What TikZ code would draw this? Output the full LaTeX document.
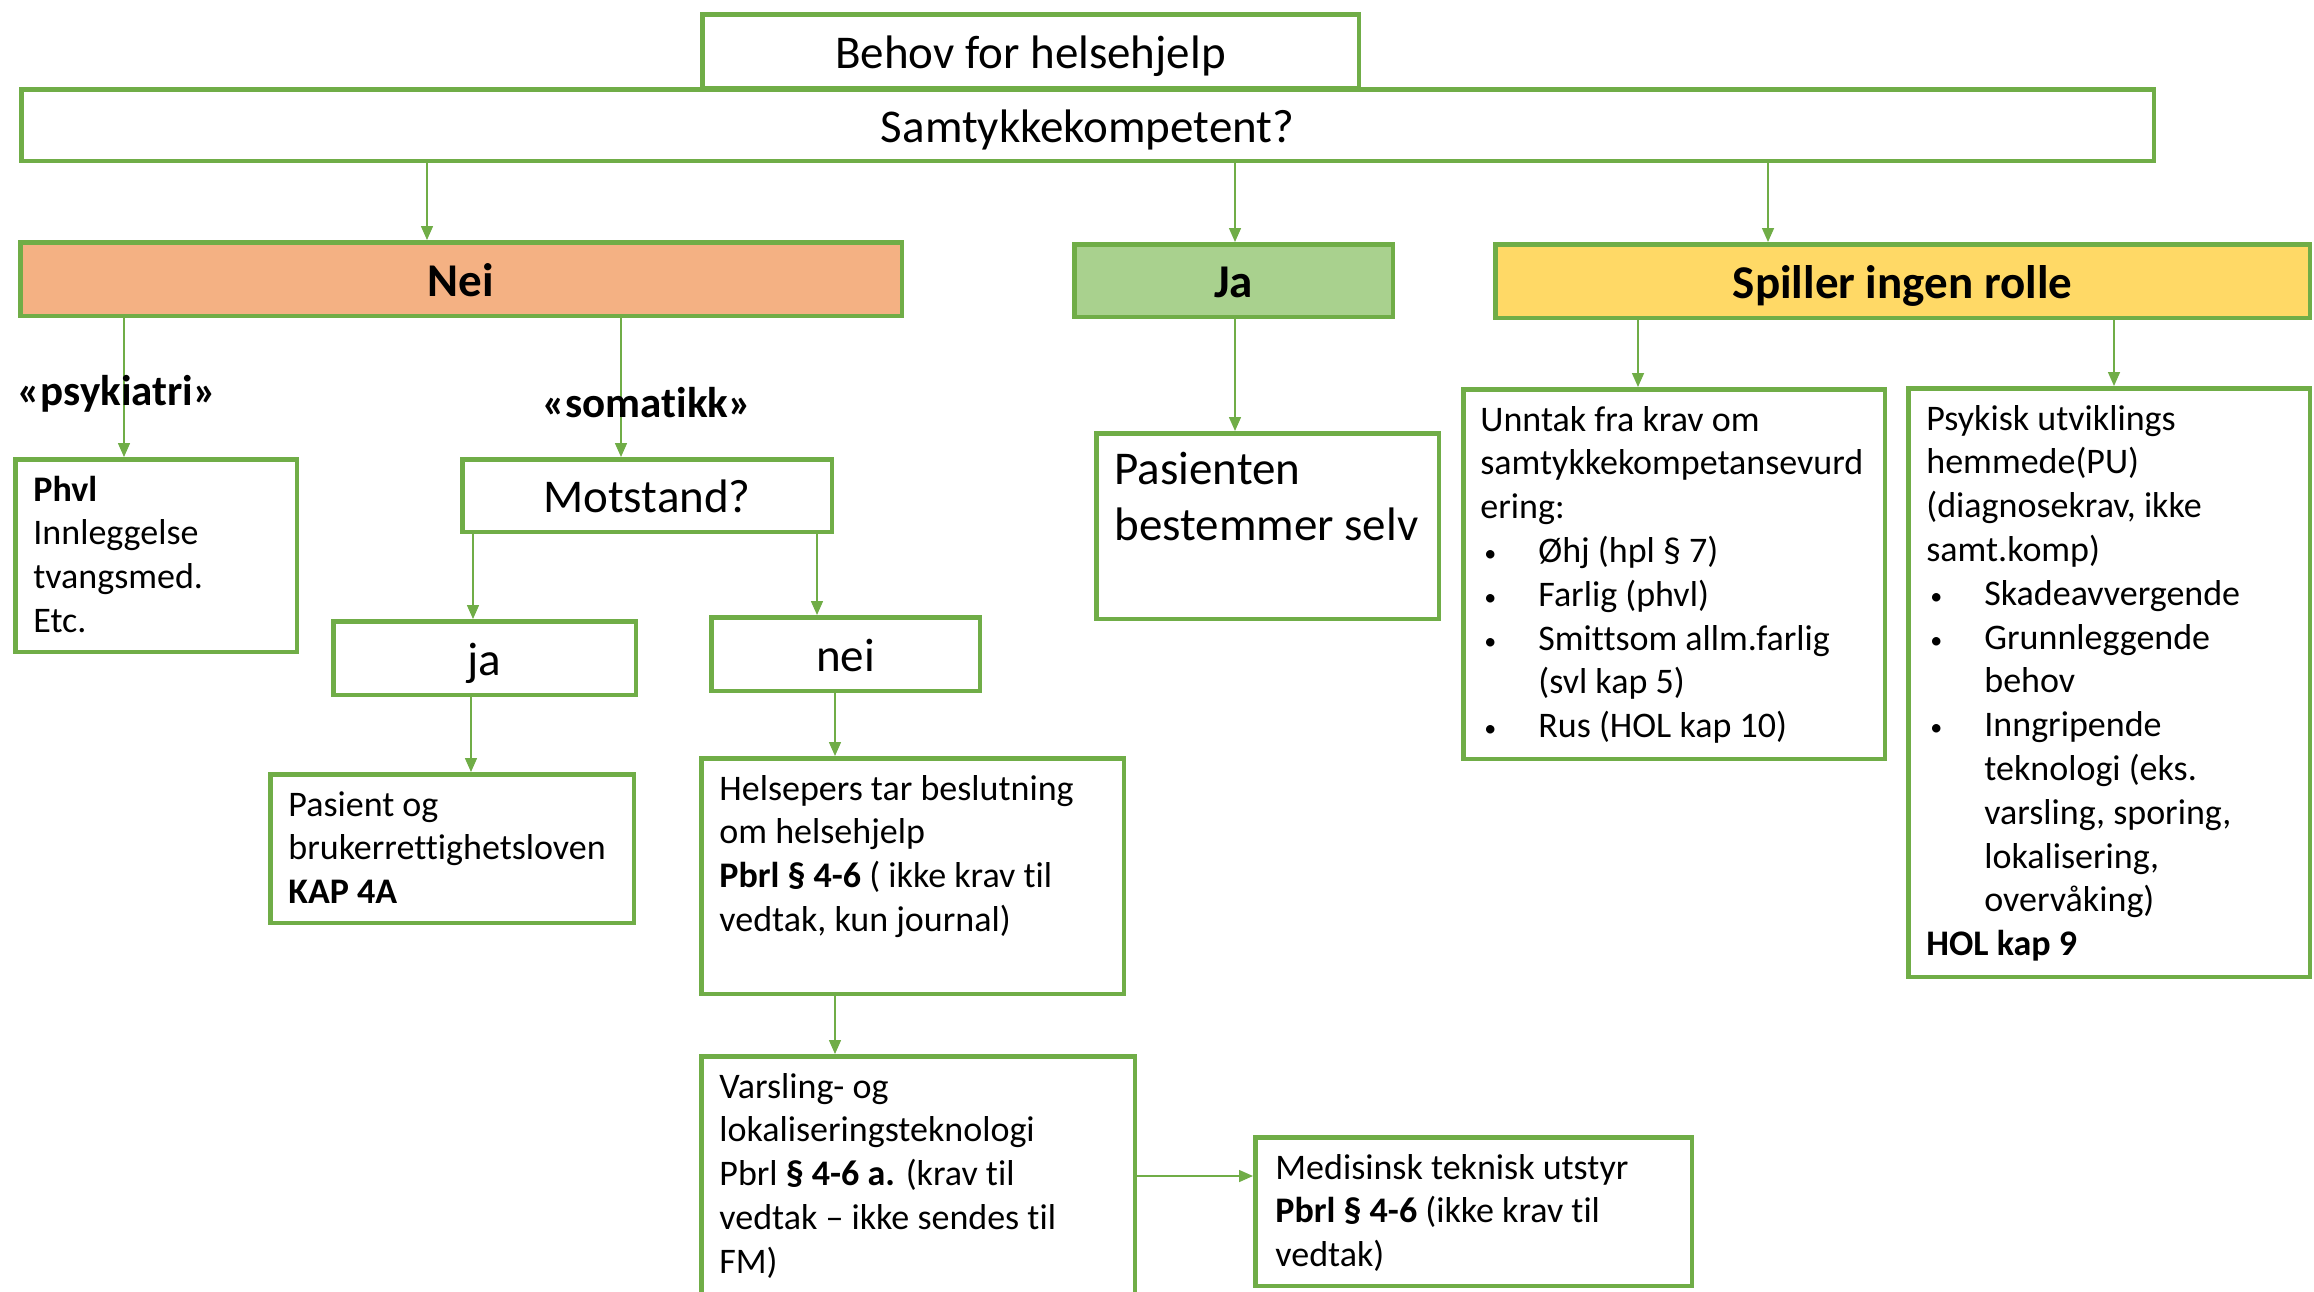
\documentclass[tikz,border=0pt]{standalone}
\usepackage{fontspec}
\setmainfont{Carlito}[Ligatures=NoCommon]
\usetikzlibrary{arrows.meta}
\definecolor{grn}{HTML}{70AD47}
\definecolor{orfill}{HTML}{F4B183}
\definecolor{jafill}{HTML}{A9D18E}
\definecolor{yfill}{HTML}{FFD966}
\tikzset{
 box/.style={draw=grn, line width=2.25pt, fill=white, rectangle, inner sep=0pt, outer sep=1.125pt},
 conn/.style={draw=grn, line width=0.75pt, -{Triangle[length=7pt,width=6pt]}},
 head/.style={font=\fontsize{23.5}{28}\selectfont, text height=18pt, text depth=1pt},
 bhead/.style={font=\fontsize{23.5}{28}\selectfont\bfseries, text height=18pt, text depth=1pt},
 body/.style={font=\fontsize{18}{21.9}\selectfont, inner sep=0pt, align=left, anchor=north west},
 lbl/.style={font=\fontsize{21.5}{26}\selectfont\bfseries, inner sep=0pt},
}
\newcommand{\mybox}[6][]{%
  \pgfmathsetmacro{\bw}{(#5-#3-4.5)*0.5}%
  \pgfmathsetmacro{\bh}{(#6-#4-4.5)*0.5}%
  \node[box,#1,anchor=north west,minimum width=\bw pt,minimum height=\bh pt] (#2) at (#3,#4)
}
\newcommand{\itm}{\hspace*{2pt}\makebox[27pt][l]{\raisebox{0.5pt}{\fontsize{12}{12}\selectfont •}}}
\newcommand{\cnt}{\hspace*{29pt}}
\begin{document}
\begin{tikzpicture}[x=0.5pt,y=-0.5pt]
\clip (0,0) rectangle (2314,1291);
\fill[white] (0,0) rectangle (2314,1291);

% boxes
\mybox[head]{behov}{700}{12}{1361}{90}{Behov for helsehjelp};
\mybox[head]{samt}{19}{87}{2156}{163}{Samtykkekompetent?};
\mybox[bhead,fill=orfill]{nei}{18}{240}{904}{318}{Nei};
\mybox[bhead,fill=jafill]{ja}{1072}{242}{1395}{319}{Ja};
\mybox[bhead,fill=yfill]{spiller}{1493}{242}{2312}{320}{Spiller ingen rolle};
\mybox{phvl}{13}{457}{299}{654}{};
\mybox[head]{motstand}{460}{457}{834}{534}{Motstand?};
\mybox[head]{jasmall}{331}{619}{638}{697}{ja};
\mybox[head]{neismall}{709}{615}{982}{693}{nei};
\mybox{pasient}{268}{772}{636}{925}{};
\mybox{helsepers}{699}{756}{1126}{996}{};
\mybox{varsling}{699}{1054}{1137}{1320}{};
\mybox{medisinsk}{1253}{1135}{1694}{1288}{};
\mybox{pasienten}{1094}{431}{1441}{621}{};
\mybox{unntak}{1461}{387}{1887}{761}{};
\mybox{psykisk}{1906}{386}{2312}{979}{};

% connector x positions
\coordinate (c1) at (427,0);
\coordinate (c2) at (1235,0);
\coordinate (c3) at (1768,0);
\coordinate (c4) at (124,0);
\coordinate (c5) at (621,0);
\coordinate (c6) at (473,0);
\coordinate (c7) at (817,0);
\coordinate (c8) at (471,0);
\coordinate (c9) at (835,0);
\coordinate (c10) at (1638,0);
\coordinate (c11) at (2114,0);
\coordinate (c12) at (0,1176);

\draw[conn] (samt.south -| c1) -- (nei.north -| c1);
\draw[conn] (samt.south -| c2) -- (ja.north -| c2);
\draw[conn] (samt.south -| c3) -- (spiller.north -| c3);
\draw[conn] (nei.south -| c4) -- (phvl.north -| c4);
\draw[conn] (nei.south -| c5) -- (motstand.north -| c5);
\draw[conn] (motstand.south -| c6) -- (jasmall.north -| c6);
\draw[conn] (motstand.south -| c7) -- (neismall.north -| c7);
\draw[conn] (jasmall.south -| c8) -- (pasient.north -| c8);
\draw[conn] (neismall.south -| c9) -- (helsepers.north -| c9);
\draw[conn] (helsepers.south -| c9) -- (varsling.north -| c9);
\draw[conn] (varsling.east |- c12) -- (medisinsk.west |- c12);
\draw[conn] (ja.south -| c2) -- (pasienten.north -| c2);
\draw[conn] (spiller.south -| c10) -- (unntak.north -| c10);
\draw[conn] (spiller.south -| c11) -- (psykisk.north -| c11);

% labels
\node[lbl] (psyk) at (117,394) {«psykiatri»};
\node[lbl] (soma) at (647,403) {«somatikk»};

% texts
\node[body] (phvlT) at ([shift={(20,13)}]phvl.north west)
  {\strut\textbf{Phvl}\\Innleggelse\\tvangsmed.\\Etc.};
\node[body] (pasientT) at ([shift={(20,13)}]pasient.north west)
  {\strut Pasient og\\brukerrettighetsloven\\\textbf{KAP 4A}};
\node[body] (helsepersT) at ([shift={(20,13)}]helsepers.north west)
  {\strut Helsepers tar beslutning\\om helsehjelp\\\textbf{Pbrl § 4-6} ( ikke krav til\\vedtak, kun journal)};
\node[body] (varslingT) at ([shift={(20,13)}]varsling.north west)
  {\strut Varsling- og\\lokaliseringsteknologi\\Pbrl \textbf{§ 4-6 a.} (krav til\\vedtak – ikke sendes til\\FM)};
\node[body] (medisinskT) at ([shift={(22,13)}]medisinsk.north west)
  {\strut Medisinsk teknisk utstyr\\\textbf{Pbrl § 4-6} (ikke krav til\\vedtak)};
\node[body, font=\fontsize{23.5}{28}\selectfont] (pasientenT) at ([shift={(20,14)}]pasienten.north west)
  {\strut Pasienten\\bestemmer selv};
\node[body] (unntakT) at ([shift={(19,13)}]unntak.north west)
  {\strut Unntak fra krav om\\samtykkekompetansevurd\\ering:\\
   \itm Øhj (hpl § 7)\\\itm Farlig (phvl)\\\itm Smittsom allm.farlig\\\cnt (svl kap 5)\\\itm Rus (HOL kap 10)};
\node[body] (psykiskT) at ([shift={(20,13)}]psykisk.north west)
  {\strut Psykisk utviklings\\hemmede(PU)\\(diagnosekrav, ikke\\samt.komp)\\
   \itm Skadeavvergende\\\itm Grunnleggende\\\cnt behov\\\itm Inngripende\\\cnt teknologi (eks.\\\cnt varsling, sporing,\\\cnt lokalisering,\\\cnt overvåking)\\\textbf{HOL kap 9}};
\end{tikzpicture}
\end{document}
